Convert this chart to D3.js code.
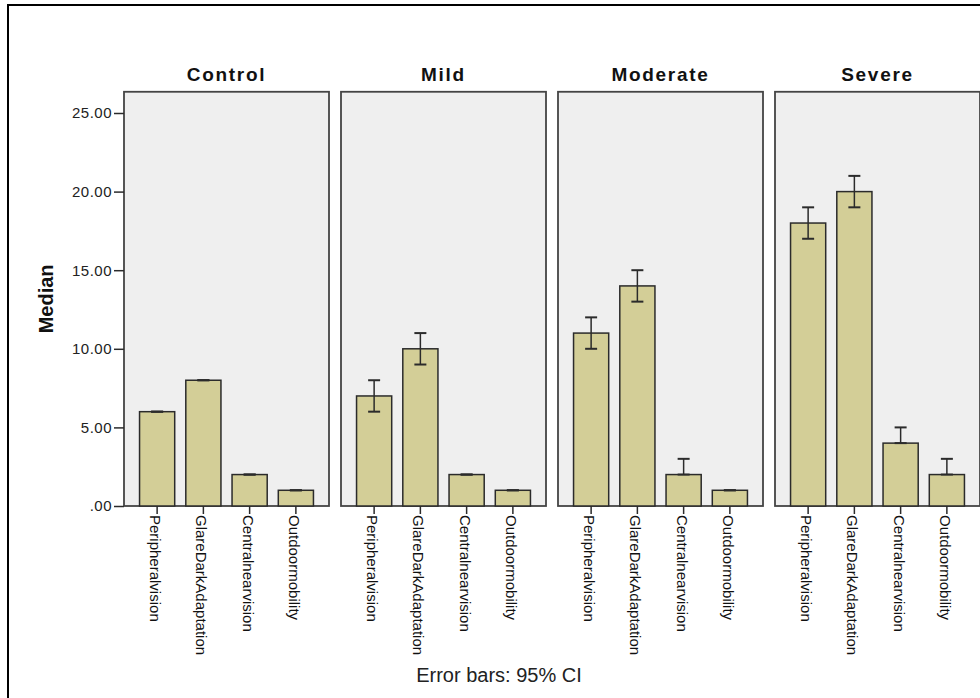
<!DOCTYPE html>
<html>
<head>
<meta charset="utf-8">
<script src="https://cdn.jsdelivr.net/npm/d3@7"></script>
<style>
  html, body { margin: 0; padding: 0; background: #ffffff; }
  svg { display: block; }
  text { font-family: "Liberation Sans", Arial, sans-serif; }
</style>
</head>
<body>
<svg id="chart" width="980" height="698"></svg>
<script>
// ---- data ----
const groups = ["Control", "Mild", "Moderate", "Severe"];
const categories = ["Peripheralvision", "GlareDarkAdaptation", "Centralnearvision", "Outdoormobility"];
const controlMedian  = [6, 8, 2, 1];
const mildMedian     = [7, 10, 2, 1];
const moderateMedian = [11, 14, 2, 1];
const severeMedian   = [18, 20, 4, 2];
const controlLower  = [6, 8, 2, 1];
const mildLower     = [6, 9, 2, 1];
const moderateLower = [10, 13, 2, 1];
const severeLower   = [17, 19, 4, 2];
const controlUpper  = [6, 8, 2, 1];
const mildUpper     = [8, 11, 2, 1];
const moderateUpper = [12, 15, 3, 1];
const severeUpper   = [19, 21, 5, 3];
const yTicks = [0, 5, 10, 15, 20, 25];
const yTitle = "Median";
const caption = "Error bars: 95% CI";

const medians = [controlMedian, mildMedian, moderateMedian, severeMedian];
const lowers  = [controlLower, mildLower, moderateLower, severeLower];
const uppers  = [controlUpper, mildUpper, moderateUpper, severeUpper];

// ---- layout ----
const svg = d3.select("#chart");
const panelLeft = 124, panelStep = 217, panelW = 205;
const plotBottom = 506, plotTop25 = 113;

const y = d3.scaleLinear().domain([0, 25]).range([plotBottom, plotTop25]);
const panelTop = y(26.35);

const fmt = v => { const s = d3.format(".2f")(v); return s.startsWith("0.") ? s.slice(1) : s; };

// outer frame
svg.append("rect")
  .attr("x", 8).attr("y", 5).attr("width", 1000).attr("height", 720)
  .attr("fill", "none").attr("stroke", "#000").attr("stroke-width", 2);

const fill = "#d3ce97";
const dark = "#2b2b2b";

groups.forEach((g, gi) => {
  const x0 = panelLeft + gi * panelStep;
  const x = d3.scaleBand().domain(categories).range([x0 + 10, x0 + panelW - 10]).paddingInner(0.24).paddingOuter(0.12);
  const gp = svg.append("g");

  // panel background
  gp.append("rect")
    .attr("x", x0).attr("y", panelTop).attr("width", panelW).attr("height", plotBottom - panelTop)
    .attr("fill", "#efefef").attr("stroke", "#444").attr("stroke-width", 1.8);

  // title
  gp.append("text")
    .attr("x", x0 + panelW / 2).attr("y", 81)
    .attr("text-anchor", "middle")
    .attr("font-size", 19).attr("font-weight", "bold")
    .attr("letter-spacing", 1.7)
    .attr("fill", "#111")
    .text(g);

  const data = categories.map((c, i) => ({ c, v: medians[gi][i], lo: lowers[gi][i], hi: uppers[gi][i] }));

  // bars
  gp.selectAll("rect.bar").data(data).enter().append("rect")
    .attr("class", "bar")
    .attr("x", d => x(d.c)).attr("width", x.bandwidth())
    .attr("y", d => y(d.v)).attr("height", d => y(0) - y(d.v))
    .attr("fill", fill).attr("stroke", dark).attr("stroke-width", 1.5);

  // error bars
  const eb = gp.selectAll("g.eb").data(data).enter().append("g").attr("class", "eb");
  eb.append("line")
    .attr("x1", d => x(d.c) + x.bandwidth() / 2).attr("x2", d => x(d.c) + x.bandwidth() / 2)
    .attr("y1", d => y(d.lo)).attr("y2", d => y(d.hi))
    .attr("stroke", dark).attr("stroke-width", 1.5);
  ["lo", "hi"].forEach(k => {
    eb.append("line")
      .attr("x1", d => x(d.c) + x.bandwidth() / 2 - 6).attr("x2", d => x(d.c) + x.bandwidth() / 2 + 6)
      .attr("y1", d => y(d[k])).attr("y2", d => y(d[k]))
      .attr("stroke", dark).attr("stroke-width", 2);
  });

  // x axis ticks + labels
  const xa = gp.append("g").attr("transform", `translate(0,${plotBottom})`);
  xa.selectAll("line").data(categories).enter().append("line")
    .attr("x1", c => x(c) + x.bandwidth() / 2).attr("x2", c => x(c) + x.bandwidth() / 2)
    .attr("y1", 0).attr("y2", 8)
    .attr("stroke", dark).attr("stroke-width", 1.5);
  xa.selectAll("text").data(categories).enter().append("text")
    .attr("transform", c => `translate(${x(c) + x.bandwidth() / 2},9) rotate(90)`)
    .attr("dy", 7)
    .attr("font-size", 15)
    .attr("fill", "#111")
    .text(c => c);
});

// y axis
const ya = svg.append("g").attr("transform", `translate(${panelLeft},0)`);
ya.call(d3.axisLeft(y).tickValues(yTicks).tickFormat(fmt).tickSize(10).tickPadding(2));
ya.select(".domain").remove();
ya.selectAll(".tick line").attr("stroke", dark).attr("stroke-width", 1.5);
ya.selectAll(".tick text").attr("font-size", 15).attr("fill", "#222")
  .attr("font-family", "Liberation Sans, Arial, sans-serif").attr("letter-spacing", 0.5);

// y title
svg.append("text")
  .attr("transform", `translate(53,${(panelTop + plotBottom) / 2}) rotate(-90)`)
  .attr("text-anchor", "middle")
  .attr("font-size", 20).attr("font-weight", "bold")
  .attr("fill", "#111")
  .text(yTitle);

// caption
svg.append("text")
  .attr("x", 499).attr("y", 682)
  .attr("text-anchor", "middle")
  .attr("font-size", 20)
  .attr("fill", "#222")
  .text(caption);
</script>
</body>
</html>
